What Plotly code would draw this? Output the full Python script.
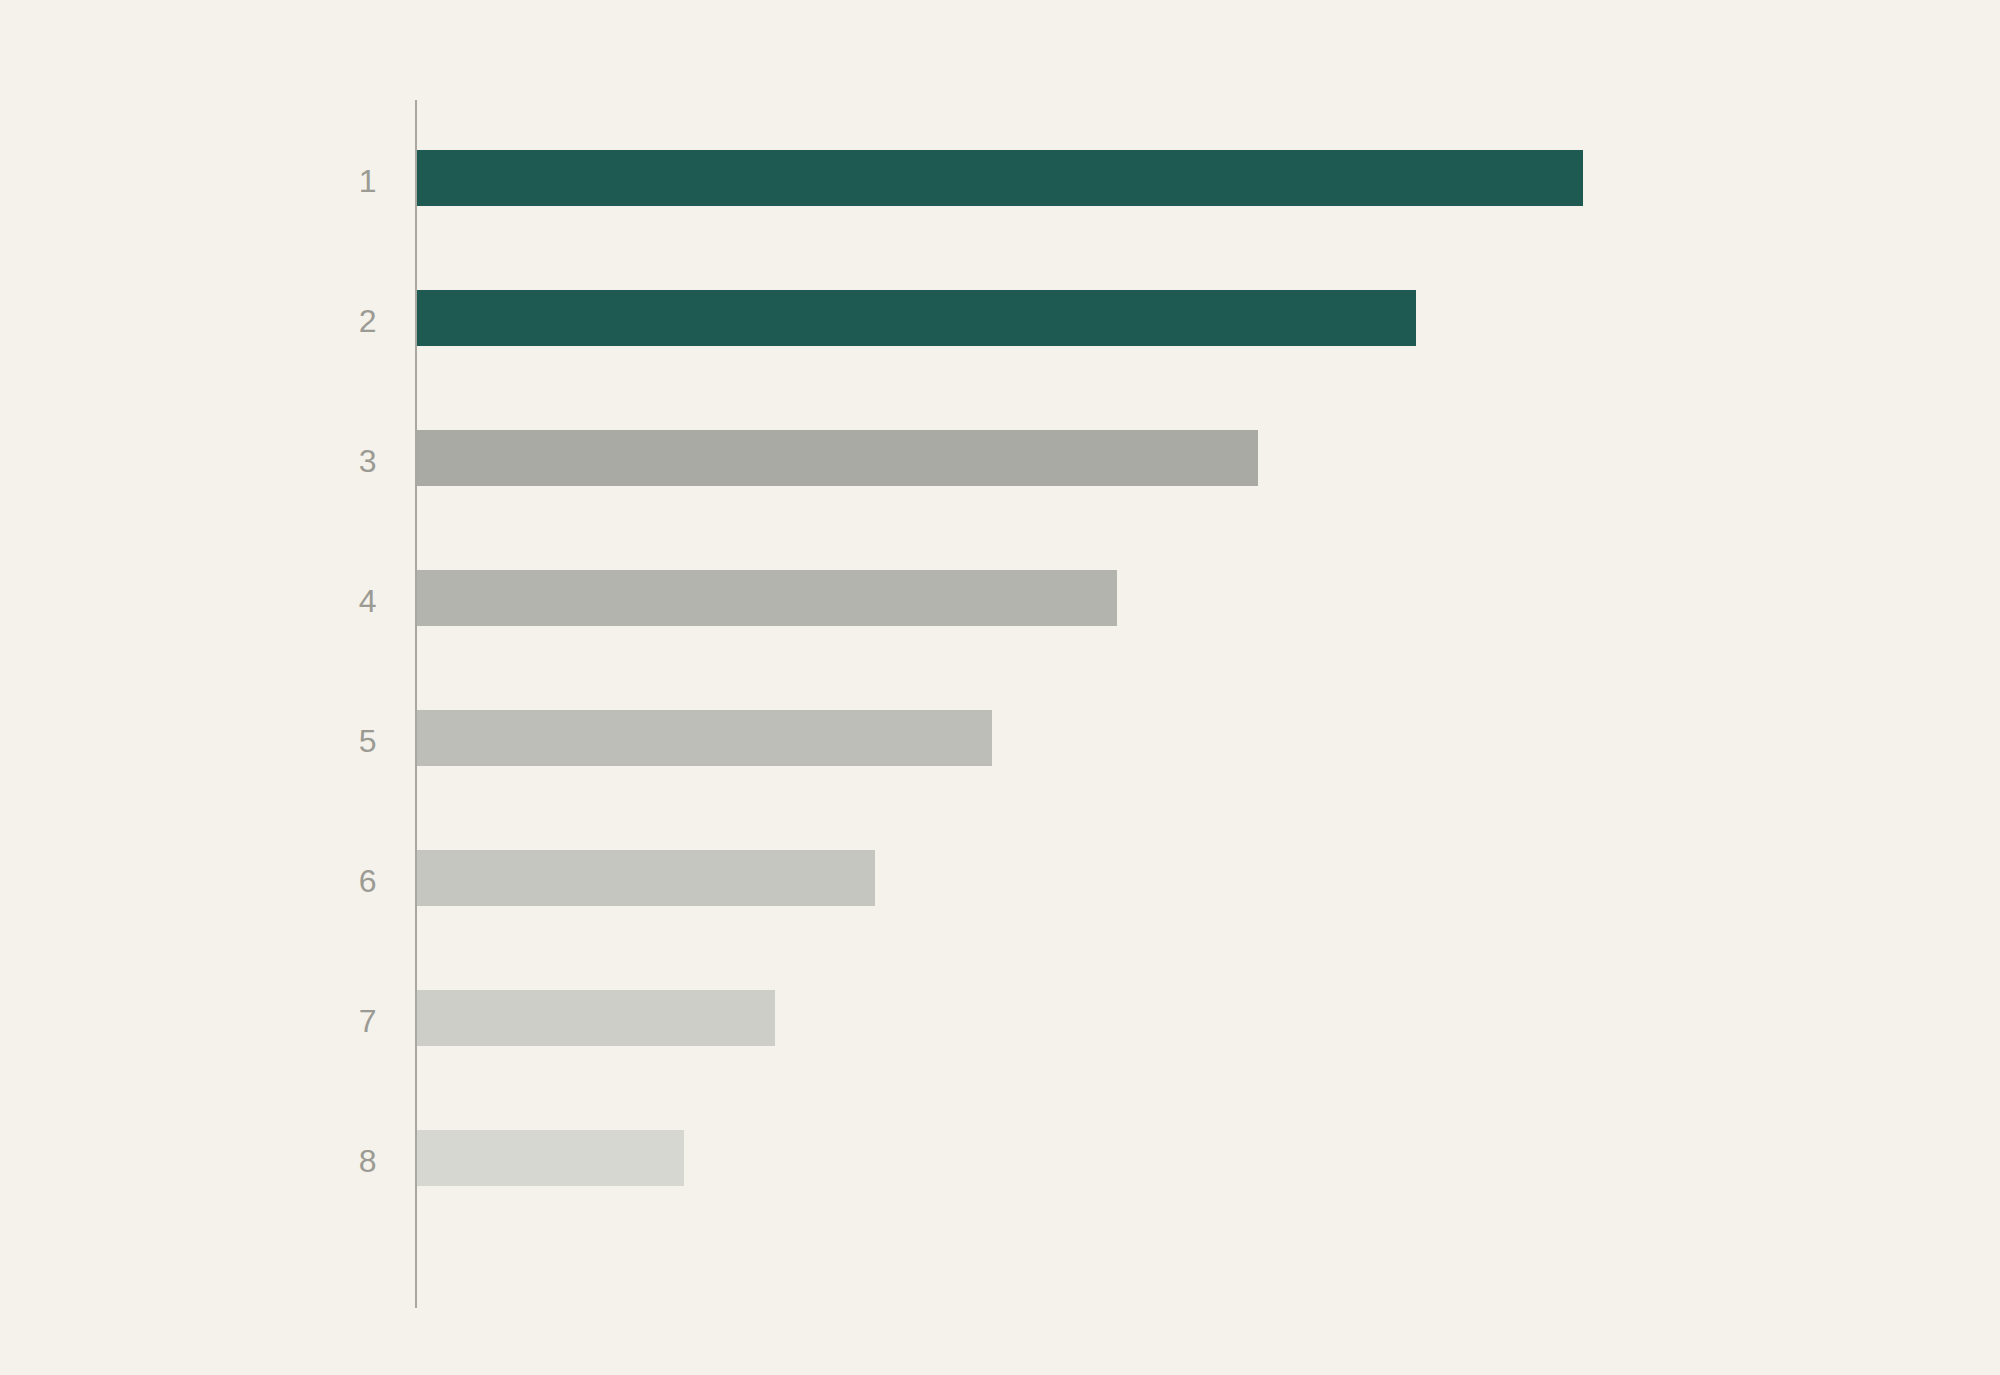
import plotly.graph_objects as go

# ranks on the y axis, bar lengths
ranks = [1, 2, 3, 4, 5, 6, 7, 8]
rank_labels = ["1", "2", "3", "4", "5", "6", "7", "8"]
values = [140, 120, 101, 84, 69, 55, 43, 32]
bar_colors = ["#1F5A52", "#1F5A52", "#A9AAA4", "#B3B4AE", "#BDBEB8",
              "#C5C6BF", "#CECEC8", "#D7D7D1"]

bg = "#F4F2EA"

fig = go.Figure(go.Bar(
    x=values,
    y=ranks,
    orientation="h",
    width=0.4,
    marker=dict(color=bar_colors, line=dict(width=0)),
    hoverinfo="skip",
))

fig.update_layout(
    width=2000,
    height=1375,
    paper_bgcolor=bg,
    plot_bgcolor=bg,
    margin=dict(l=416.67, r=416.67, t=100, b=67),
    showlegend=False,
    bargap=0,
)

fig.update_xaxes(
    range=[0, 140],
    showgrid=False,
    zeroline=False,
    showline=False,
    showticklabels=False,
    fixedrange=True,
)

fig.update_yaxes(
    range=[9.071, 0.443],
    tickmode="array",
    tickvals=ranks,
    ticktext=rank_labels,
    showgrid=False,
    zeroline=False,
    showline=True,
    linecolor="#A8A8A0",
    linewidth=2,
    ticks="",
    ticklabelstandoff=32,
    ticklabelshift=-3,
    tickfont=dict(family="Liberation Sans, Arial, sans-serif", size=32, color="#9B9B94"),
    fixedrange=True,
)

# drop the page's default body margin so the figure sits at the window edge
fig.write_html(
    "out.html",
    config={"displayModeBar": False},
    post_script="document.body.style.margin='0';document.body.style.background='%s';" % bg,
)
